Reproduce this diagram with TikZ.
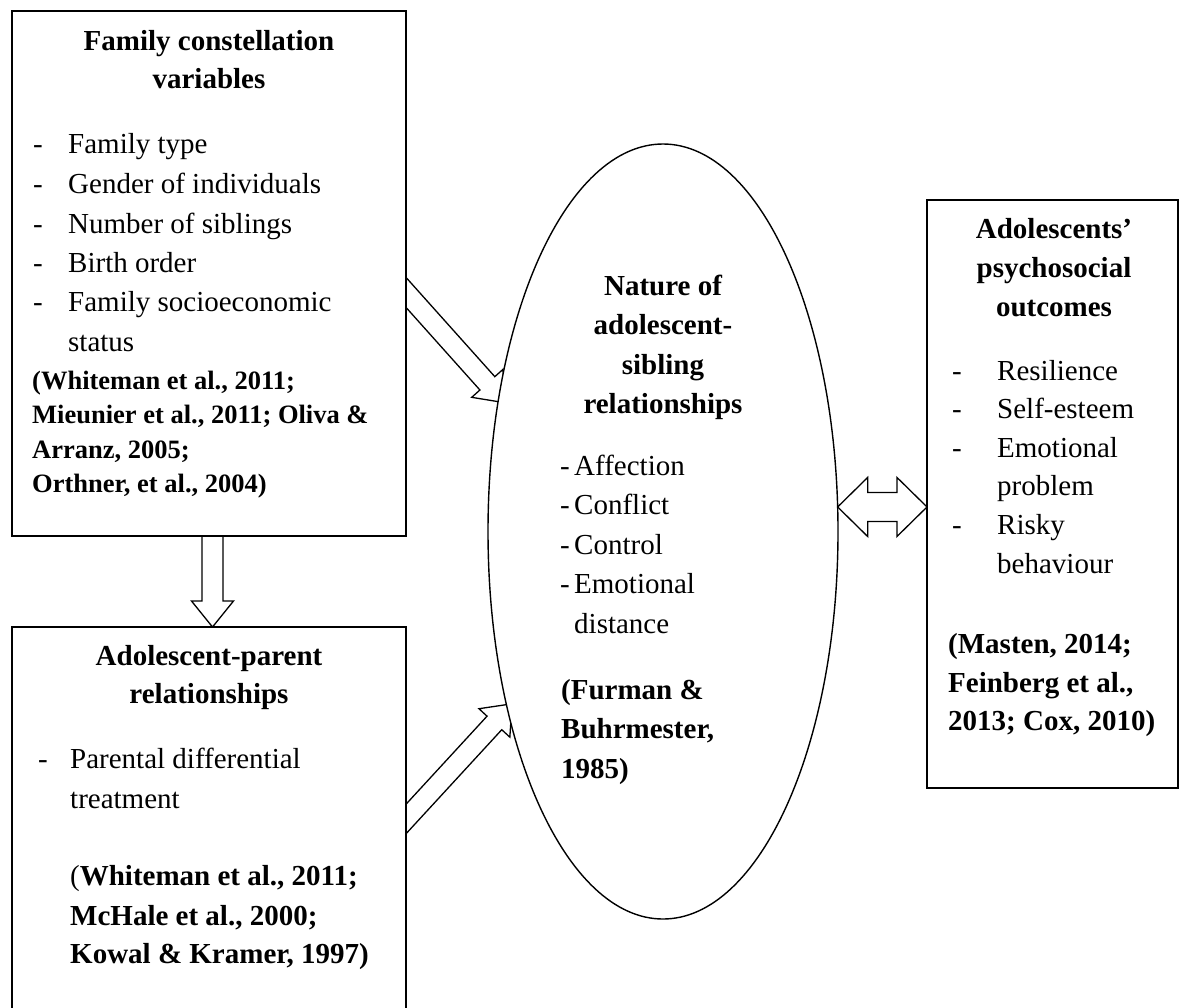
\documentclass[tikz,border=0pt]{standalone}
\usepackage{fontspec}
\setmainfont{Liberation Serif}
\usetikzlibrary{shapes.geometric,calc}
\pgfdeclarelayer{bg}
\pgfsetlayers{bg,main}
\newcommand{\blkarrow}[5]{%
  \coordinate (bkH) at ($(#2)!#5!(#1)$);
  \draw[blockarrow] ($(#1)!#3!90:(#2)$) -- ($(bkH)!#3!90:(#2)$) -- ($(bkH)!#4!90:(#2)$) -- (#2)
    -- ($(bkH)!#4!-90:(#2)$) -- ($(bkH)!#3!-90:(#2)$) -- ($(#1)!#3!-90:(#2)$) -- cycle;}
\newcommand{\dblkarrow}[5]{%
  \coordinate (bkA) at ($(#1)!#5!(#2)$);
  \coordinate (bkB) at ($(#2)!#5!(#1)$);
  \draw[blockarrow] (#1) -- ($(bkA)!#4!90:(#2)$) -- ($(bkA)!#3!90:(#2)$) -- ($(bkB)!#3!90:(#2)$)
    -- ($(bkB)!#4!90:(#2)$) -- (#2) -- ($(bkB)!#4!-90:(#2)$) -- ($(bkB)!#3!-90:(#2)$)
    -- ($(bkA)!#3!-90:(#2)$) -- ($(bkA)!#4!-90:(#2)$) -- cycle;}
\tikzset{
  box/.style={draw, line width=1.4pt, fill=white, rectangle, inner sep=0pt, outer sep=0pt, anchor=north west},
  oval/.style={draw, line width=1.4pt, fill=white, ellipse, inner sep=0pt, outer sep=0pt},
  blockarrow/.style={draw, line width=1.3pt, fill=white, line join=miter},
  ttl/.style={inner sep=0pt, anchor=base, font=\fontsize{29}{34}\selectfont\bfseries},
  itm/.style={inner sep=0pt, anchor=base west, font=\fontsize{29}{34}\selectfont},
  cit/.style={inner sep=0pt, anchor=base west, font=\fontsize{29}{34}\selectfont\bfseries},
  cits/.style={inner sep=0pt, anchor=base west, font=\fontsize{26.5}{30}\selectfont\bfseries},
}
\begin{document}
\begin{tikzpicture}[x=1pt,y=-1pt]
\useasboundingbox (0,0) rectangle (1180,1007);
\clip (0,0) rectangle (1180,1007);
% boxes
\node[box, minimum width=394pt, minimum height=525pt] (b1) at (12,11) {};
\node[box, minimum width=394pt, minimum height=420pt] (b2) at (12,627) {};
\node[box, minimum width=251pt, minimum height=588pt] (rb) at (927,200) {};
\node[oval, minimum width=350pt, minimum height=775pt] (ell) at (663,531.5) {};
% arrow coordinates
\coordinate (a1s) at ($(b1.north east)!0.536!(b1.south east)$);
\coordinate (a1t) at (504.7,402.7);
\coordinate (a1b) at ($(a1s)!-40pt!(a1t)$);
\coordinate (a2s) at ($(b2.north east)+(0,192)$);
\coordinate (a2t) at (512,703.8);
\coordinate (a2b) at ($(a2s)!-40pt!(a2t)$);
\coordinate (a3b) at ($(b1.south)+(3.5,-30)$);
\coordinate (a3t) at ($(b2.north)+(3.5,0)$);
\coordinate (a4l) at (ell.8.1);
\coordinate (a4r) at (rb.west |- a4l);
\begin{pgfonlayer}{bg}
\blkarrow{a1b}{a1t}{10pt}{21pt}{26pt}
\blkarrow{a2b}{a2t}{10pt}{21pt}{26pt}
\blkarrow{a3b}{a3t}{10.5pt}{21pt}{26pt}
\dblkarrow{a4l}{a4r}{14.5pt}{29.5pt}{30pt}
\end{pgfonlayer}
% box 1 text
\node[ttl] (b1t1) at (209,50) {Family constellation};
\node[ttl] (b1t2) at (209,88) {variables};
\node[itm] (b1d1) at (33,153) {-};
\node[itm] (b1i1) at (68,153) {Family type};
\node[itm] (b1d2) at (33,193) {-};
\node[itm] (b1i2) at (68,193) {Gender of individuals};
\node[itm] (b1d3) at (33,233) {-};
\node[itm] (b1i3) at (68,233) {Number of siblings};
\node[itm] (b1d4) at (33,272) {-};
\node[itm] (b1i4) at (68,272) {Birth order};
\node[itm] (b1d5) at (33,311) {-};
\node[itm] (b1i5) at (68,311) {Family socioeconomic};
\node[itm] (b1i6) at (68,351) {status};
\node[cits] (b1c1) at (32,389) {(Whiteman et al., 2011;};
\node[cits] (b1c2) at (32,423) {Mieunier et al., 2011; Oliva \&};
\node[cits] (b1c3) at (32,458) {Arranz, 2005;};
\node[cits] (b1c4) at (32,492) {Orthner, et al., 2004)};
% box 2 text
\node[ttl] (b2t1) at (209,665) {Adolescent-parent};
\node[ttl] (b2t2) at (209,703) {relationships};
\node[itm] (b2d1) at (38,768) {-};
\node[itm] (b2i1) at (70,768) {Parental differential};
\node[itm] (b2i2) at (70,808) {treatment};
\node[itm] (b2c1) at (70,885) {(\textbf{Whiteman et al., 2011;}};
\node[cit] (b2c2) at (70,925) {McHale et al., 2000;};
\node[cit] (b2c3) at (70,963) {Kowal \& Kramer, 1997)};
% ellipse text
\node[ttl] (et1) at (663,295) {Nature of};
\node[ttl] (et2) at (663,334.5) {adolescent-};
\node[ttl] (et3) at (663,374) {sibling};
\node[ttl] (et4) at (663,413.5) {relationships};
\node[itm] (ed1) at (560,475) {-};
\node[itm] (ei1) at (574,475) {Affection};
\node[itm] (ed2) at (560,514.5) {-};
\node[itm] (ei2) at (574,514.5) {Conflict};
\node[itm] (ed3) at (560,554) {-};
\node[itm] (ei3) at (574,554) {Control};
\node[itm] (ed4) at (560,593.5) {-};
\node[itm] (ei4) at (574,593.5) {Emotional};
\node[itm] (ei5) at (574,633) {distance};
\node[cit] (ec1) at (561,699) {(Furman \&};
\node[cit] (ec2) at (561,738.5) {Buhrmester,};
\node[cit] (ec3) at (561,778) {1985)};
% right box text
\node[ttl] (rt1) at (1054,238) {Adolescents’};
\node[ttl] (rt2) at (1054,277) {psychosocial};
\node[ttl] (rt3) at (1054,316) {outcomes};
\node[itm] (rd1) at (952,380) {-};
\node[itm] (ri1) at (997,380) {Resilience};
\node[itm] (rd2) at (952,418.6) {-};
\node[itm] (ri2) at (997,418.6) {Self-esteem};
\node[itm] (rd3) at (952,457.2) {-};
\node[itm] (ri3) at (997,457.2) {Emotional};
\node[itm] (ri4) at (997,495.8) {problem};
\node[itm] (rd5) at (952,534.4) {-};
\node[itm] (ri5) at (997,534.4) {Risky};
\node[itm] (ri6) at (997,573) {behaviour};
\node[cit] (rc1) at (948,653) {(Masten, 2014;};
\node[cit] (rc2) at (948,692) {Feinberg et al.,};
\node[cit] (rc3) at (948,730) {2013; Cox, 2010)};
\end{tikzpicture}
\end{document}
